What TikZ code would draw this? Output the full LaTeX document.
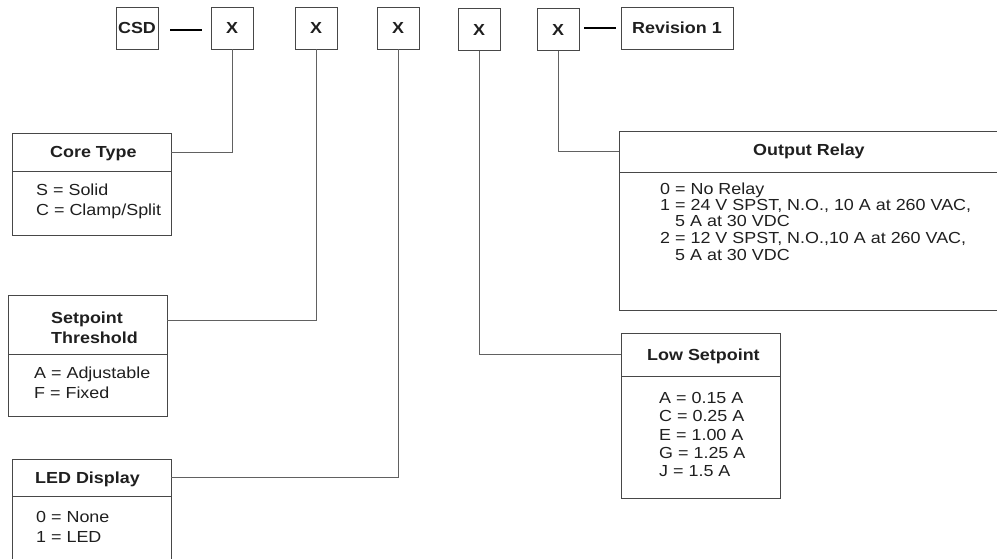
\documentclass[tikz,border=0pt]{standalone}
\usepackage{fontspec}
\setmainfont{Liberation Sans}[FakeStretch=1.12]
\begin{document}
\begin{tikzpicture}[x=1pt,y=-1pt,
  box/.style={draw=black!72, line width=0.9pt, rectangle, inner sep=0pt},
  codebox/.style={box, minimum width=42pt, minimum height=42pt, font=\fontsize{16}{19}\selectfont\bfseries, text=black!88},
  link/.style={draw=black!62, line width=0.8pt},
  dashline/.style={draw=black, line width=2.8pt},
  hd/.style={font=\fontsize{16}{19}\selectfont\bfseries, text=black!88, inner sep=0pt, anchor=base west},
  bt/.style={font=\fontsize{16}{19}\selectfont, text=black!88, inner sep=0pt, anchor=base west}]
\clip (0,0) rectangle (997,559);
\useasboundingbox (0,0) rectangle (997,559);

% top code row
\node[codebox] (csd) at (137,28) {CSD};
\node[codebox] (x1) at (232,28) {X};
\node[codebox] (x2) at (316,28) {X};
\node[codebox] (x3) at (398,28) {X};
\node[codebox] (x4) at (479,29.5) {X};
\node[codebox] (x5) at (558,29.5) {X};
\node[codebox, minimum width=112pt] (rev) at (677,28) {Revision 1};
\draw[dashline, shorten <=12pt, shorten >=9pt] ([yshift=-2pt]csd.east) -- ([yshift=-2pt]x1.west);
\draw[dashline, shorten <=5pt, shorten >=5pt] (rev.west -| x5.east) -- (rev.west);

% Core Type
\node[box, minimum width=159pt, minimum height=38pt] (coreh) at (91.5,152) {};
\node[box, minimum width=159pt, minimum height=64pt] (coreb) at (91.5,203) {};
\node[hd] (coret) at (50,158) {Core Type};
\node[bt] (core1) at (36,196) {S = Solid};
\node[bt] (core2) at (36,216) {C = Clamp/Split};

% Setpoint Threshold
\node[box, minimum width=159pt, minimum height=59pt] (seth) at (87.5,324.5) {};
\node[box, minimum width=159pt, minimum height=62pt] (setb) at (87.5,385) {};
\node[hd] (sett1) at (51,323) {Setpoint};
\node[hd] (sett2) at (51,343) {Threshold};
\node[bt] (set1) at (34,378) {A = Adjustable};
\node[bt] (set2) at (34,398) {F = Fixed};

% LED Display
\node[box, minimum width=159pt, minimum height=37pt] (ledh) at (91.5,477.5) {};
\node[box, minimum width=159pt, minimum height=84pt] (ledb) at (91.5,538) {};
\node[hd] (ledt) at (35,483) {LED Display};
\node[bt] (led1) at (36,522) {0 = None};
\node[bt] (led2) at (36,542) {1 = LED};

% Output Relay
\node[box, minimum width=381pt, minimum height=41pt] (outh) at (809.5,151.5) {};
\node[box, minimum width=381pt, minimum height=138pt] (outb) at (809.5,241) {};
\node[hd] (outt) at (753,156) {Output Relay};
\node[bt] (out1) at (660,195) {0 = No Relay};
\node[bt] (out2) at (660,211) {1 = 24 V SPST, N.O., 10 A at 260 VAC,};
\node[bt] (out3) at (675,227) {5 A at 30 VDC};
\node[bt] (out4) at (660,243.5) {2 = 12 V SPST, N.O.,10 A at 260 VAC,};
\node[bt] (out5) at (675,260) {5 A at 30 VDC};

% Low Setpoint
\node[box, minimum width=159pt, minimum height=43pt] (lowh) at (700.5,354.5) {};
\node[box, minimum width=159pt, minimum height=122pt] (lowb) at (700.5,437) {};
\node[hd] (lowt) at (647,360) {Low Setpoint};
\node[bt] (low1) at (659,403) {A = 0.15 A};
\node[bt] (low2) at (659,421.5) {C = 0.25 A};
\node[bt] (low3) at (659,440) {E = 1.00 A};
\node[bt] (low4) at (659,458) {G = 1.25 A};
\node[bt] (low5) at (659,476.5) {J = 1.5 A};

% connectors
\draw[link] (coreh.east) -| (x1.south);
\draw[link] ([yshift=4pt]seth.east) -| (x2.south);
\draw[link] (ledh.east) -| (x3.south);
\draw[link] (lowh.west) -| (x4.south);
\draw[link] (outh.west) -| (x5.south);
\end{tikzpicture}
\end{document}
